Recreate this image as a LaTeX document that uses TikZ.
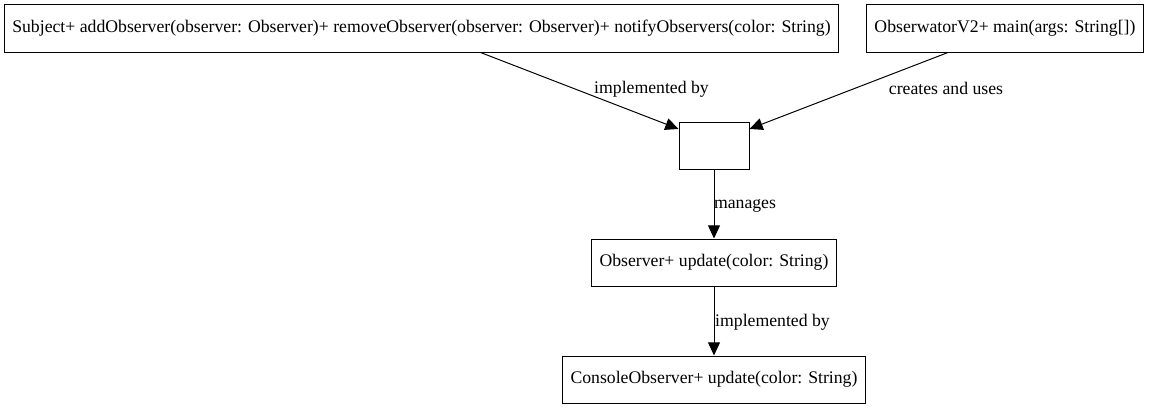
\documentclass[tikz,border=0pt]{standalone}
\usepackage{fontspec}
\setmainfont{Liberation Serif}
\usepackage{tikz}
\usetikzlibrary{arrows.meta,positioning}

\begin{document}
\begin{tikzpicture}[
  font=\fontsize{12.6}{15}\selectfont,
  cls/.style={draw, line width=0.7pt, align=center, inner xsep=0.2cm,
    inner ysep=0pt, minimum height=1.175cm},
  hubbox/.style={draw, line width=0.7pt, minimum width=1.75cm,
    minimum height=1.175cm},
  lbl/.style={inner sep=0pt, anchor=center},
  arr/.style={-{Triangle[length=0.33cm, width=0.3cm]}, line width=0.7pt}
]
\useasboundingbox (0,0) rectangle (28.8,10.225);

\node[cls] (subj) at (10.5375,9.5125) {Subject+ addObserver(observer: Observer)+ removeObserver(observer: Observer)+ notifyObservers(color: String)};
\node[cls] (obsv2) at (25.125,9.5125) {ObserwatorV2+ main(args: String[])};
\node[hubbox] (hub) at (17.85,6.5875) {};
\node[cls] (obsv) at (17.85,3.6625) {Observer+ update(color: String)};
\node[cls] (cons) at (17.85,0.7375) {ConsoleObserver+ update(color: String)};

\node[lbl] (l1) at (16.2875,8.0) {implemented by};
\node[lbl] (l2) at (23.65,8.025) {creates and uses};
\node[lbl] (l3) at (18.625,5.075) {manages};
\node[lbl] (l4) at (19.3125,2.175) {implemented by};

\draw[arr] ([xshift=1.475cm]subj.south) -- (hub.155);
\draw[arr] ([xshift=-1.425cm]obsv2.south) -- (hub.25);
\draw[arr] (hub) -- (obsv);
\draw[arr] (obsv) -- (cons);
\end{tikzpicture}
\end{document}
